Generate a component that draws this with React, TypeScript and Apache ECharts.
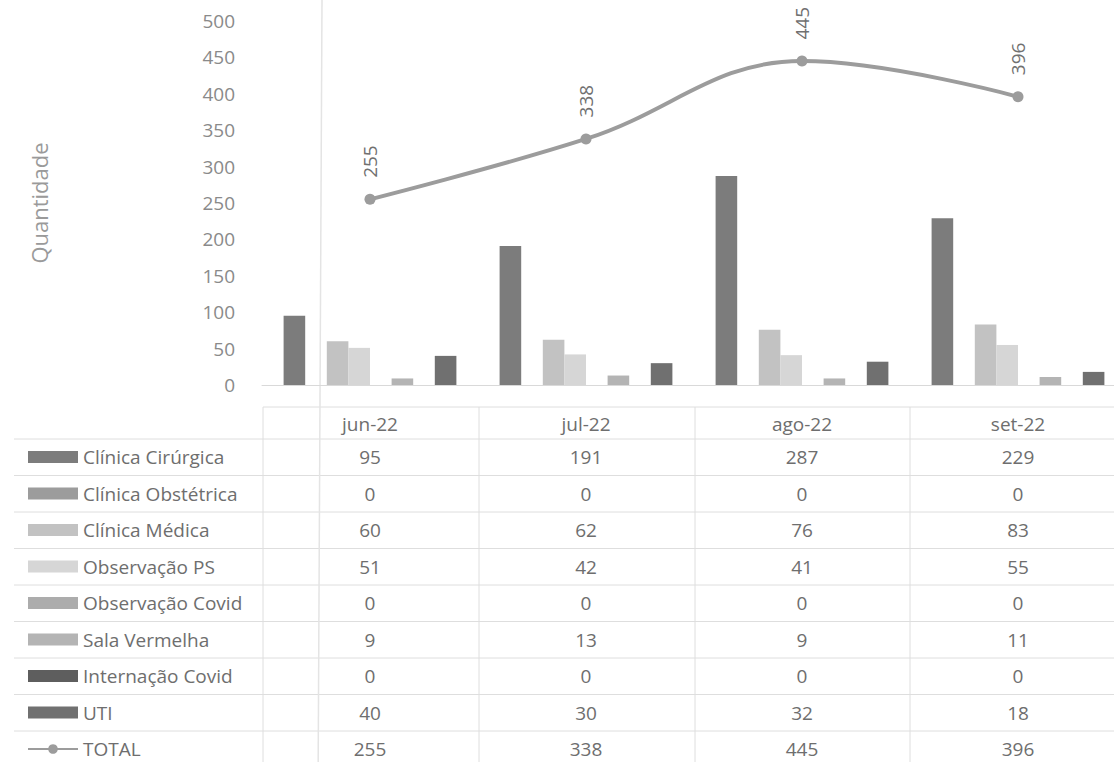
import React, { useEffect, useRef } from 'react';
import * as echarts from 'echarts';

const categories = ['jun-22', 'jul-22', 'ago-22', 'set-22'];
const seriesNames = [
  'Clínica Cirúrgica',
  'Clínica Obstétrica',
  'Clínica Médica',
  'Observação PS',
  'Observação Covid',
  'Sala Vermelha',
  'Internação Covid',
  'UTI',
];
const clinicaCirurgica = [95, 191, 287, 229];
const clinicaObstetrica = [0, 0, 0, 0];
const clinicaMedica = [60, 62, 76, 83];
const observacaoPS = [51, 42, 41, 55];
const observacaoCovid = [0, 0, 0, 0];
const salaVermelha = [9, 13, 9, 11];
const internacaoCovid = [0, 0, 0, 0];
const uti = [40, 30, 32, 18];
const total = [255, 338, 445, 396];
const totalName = 'TOTAL';
const yMin = 0;
const yMax = 500;
const yInterval = 50;

const barColors = ['#7c7c7c', '#9c9c9c', '#c2c2c2', '#d6d6d6', '#acacac', '#b4b4b4', '#5e5e5e', '#707070'];
const FONT = '"Open Sans", Lato, sans-serif';

export default function App() {
  const ref = useRef<HTMLDivElement>(null);
  useEffect(() => {
    const chart = echarts.init(ref.current!, null, { renderer: 'svg' });
    const barData = [
      clinicaCirurgica,
      clinicaObstetrica,
      clinicaMedica,
      observacaoPS,
      observacaoCovid,
      salaVermelha,
      internacaoCovid,
      uti,
    ];
    const rowTop = 439;
    const rowH = 36.5;
    const lines: any[] = [];
    for (let k = 0; k <= 9; k++) {
      const y = rowTop + rowH * k;
      lines.push({
        type: 'line',
        shape: { x1: 14, y1: y, x2: 1140, y2: y },
        style: { stroke: '#dedede', lineWidth: 1 },
        silent: true,
      });
    }
    lines.push({
      type: 'line',
      shape: { x1: 263, y1: 407, x2: 1140, y2: 407 },
      style: { stroke: '#dedede', lineWidth: 1 },
      silent: true,
    });
    [263, 479, 695, 910].forEach((x) => {
      lines.push({
        type: 'line',
        shape: { x1: x, y1: 407, x2: x, y2: 800 },
        style: { stroke: '#dedede', lineWidth: 1 },
        silent: true,
      });
    });
    lines.push({
      type: 'line',
      shape: { x1: 322, y1: 0, x2: 318, y2: 800 },
      style: { stroke: '#e4e4e4', lineWidth: 1.5 },
      silent: true,
    });

    const option: any = {
      animation: false,
      backgroundColor: '#ffffff',
      textStyle: { fontFamily: FONT },
      grid: { left: 262, right: 14, top: 21, bottom: 415, containLabel: false },
      legend: {
        orient: 'vertical',
        left: 27,
        top: 445,
        padding: 0,
        itemWidth: 50,
        itemHeight: 12,
        itemGap: 12.5,
        textStyle: { fontSize: 19, color: '#6e6e6e', fontFamily: FONT, lineHeight: 24 },
        data: [
          ...seriesNames.map((n) => ({ name: n, icon: 'rect' })),
          { name: totalName },
        ],
        selectedMode: false,
      },
      xAxis: {
        type: 'category',
        data: categories,
        axisLine: { show: true, lineStyle: { color: '#d9d9d9', width: 1 } },
        axisTick: { show: false },
        splitLine: { show: false },
        axisLabel: {
          margin: 24,
          interval: 0,
          formatter: (value: string, index: number) => {
            const rows = [`{h|${value}}`];
            barData.forEach((arr) => rows.push(`{v|${arr[index]}}`));
            rows.push(`{v|${total[index]}}`);
            return rows.join('\n');
          },
          rich: {
            h: { fontSize: 19, color: '#6e6e6e', lineHeight: 30, fontFamily: FONT },
            v: { fontSize: 19, color: '#6e6e6e', lineHeight: 36.5, fontFamily: FONT },
          },
        },
      },
      yAxis: {
        type: 'value',
        min: yMin,
        max: yMax,
        interval: yInterval,
        name: 'Quantidade',
        nameLocation: 'middle',
        nameRotate: 90,
        nameGap: 212,
        nameTextStyle: { fontSize: 22, color: '#9a9a9a', fontFamily: FONT },
        axisLine: { show: false },
        axisTick: { show: false },
        splitLine: { show: false },
        axisLabel: { margin: 27, fontSize: 19, color: '#8a8a8a', fontFamily: FONT },
      },
      series: [
        ...seriesNames.map((name, i) => ({
          name,
          type: 'bar',
          data: barData[i],
          barGap: '0%',
          barCategoryGap: '20%',
          itemStyle: { color: barColors[i] },
        })),
        {
          name: totalName,
          type: 'line',
          data: total,
          smooth: 0.4,
          symbol: 'circle',
          symbolSize: 11,
          z: 5,
          lineStyle: { color: '#9c9c9c', width: 4 },
          itemStyle: { color: '#9c9c9c' },
          label: {
            show: true,
            position: 'top',
            distance: 16,
            rotate: 90,
            align: 'left',
            verticalAlign: 'middle',
            fontSize: 19,
            color: '#707070',
            fontFamily: FONT,
          },
        },
      ],
      graphic: lines,
    };
    chart.setOption(option);
    return () => chart.dispose();
  }, []);
  return (
    <div style={{ position: 'fixed', left: 0, top: 0, width: 1114, height: 762, overflow: 'hidden', background: '#fff' }}>
      <div ref={ref} style={{ width: 1140, height: 800 }} />
    </div>
  );
}
